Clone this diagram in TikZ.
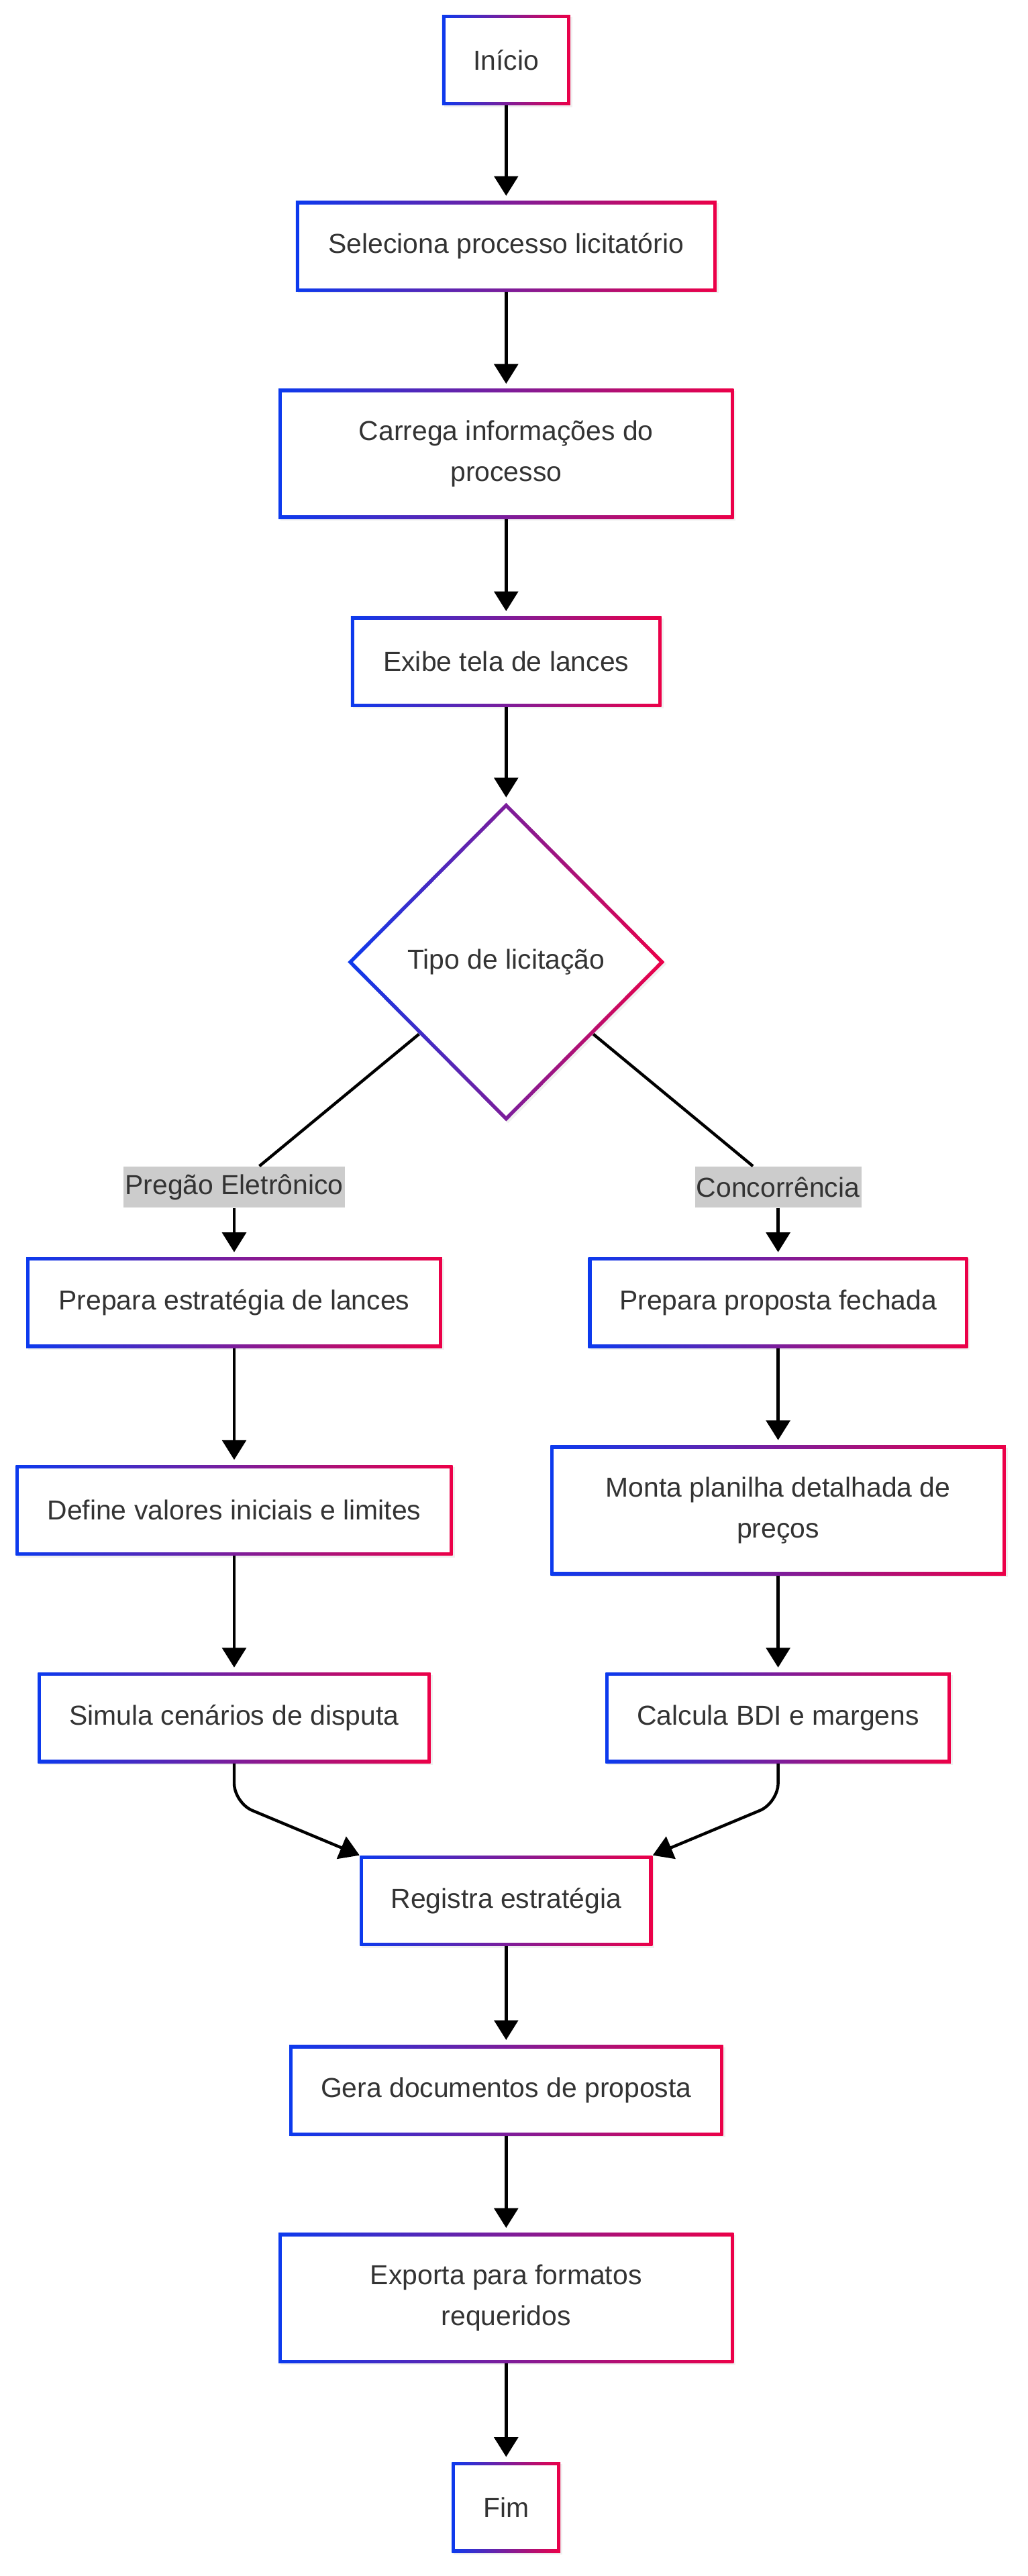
\documentclass[tikz,border=0pt]{standalone}
\usepackage{fontspec}
\setmainfont{Liberation Sans}
\usepackage{tikz}
\usetikzlibrary{shapes.geometric}
\usetikzlibrary{shadows}
\usetikzlibrary{positioning}
\usetikzlibrary{arrows.meta}

\definecolor{rimBlue}{RGB}{12,58,238}
\definecolor{rimRed}{RGB}{236,0,72}
\definecolor{tagGray}{RGB}{204,204,204}
\definecolor{inkGray}{RGB}{51,51,51}

\tikzset{
    stepbox/.style={rectangle, inner sep=0pt, minimum height=55pt,
        left color=rimBlue, right color=rimRed, text=inkGray, align=center,
        font=\fontsize{16.7}{25}\selectfont,
        drop shadow={shadow xshift=1.2pt, shadow yshift=-1.2pt, opacity=0.12},
        path picture={\fill[white] ([shift={(2pt,2pt)}]path picture bounding box.south west)
            rectangle ([shift={(-2pt,-2pt)}]path picture bounding box.north east);}},
    tallbox/.style={stepbox, minimum height=79pt},
    choice/.style={diamond, aspect=1, inner sep=0pt, minimum width=193pt, minimum height=194pt,
        left color=rimBlue, right color=rimRed, text=inkGray,
        font=\fontsize{16.7}{25}\selectfont,
        drop shadow={shadow xshift=1.2pt, shadow yshift=-1.2pt, opacity=0.12},
        path picture={\fill[white] ([yshift=-3.2pt]path picture bounding box.north)
            -- ([xshift=-3.2pt]path picture bounding box.east)
            -- ([yshift=3.2pt]path picture bounding box.south)
            -- ([xshift=3.2pt]path picture bounding box.west) -- cycle;}},
    branchtag/.style={rectangle, fill=tagGray, text=inkGray, inner xsep=1pt,
        minimum height=25pt, font=\fontsize{16.7}{25}\selectfont},
    flow/.style={draw=black, line width=1.8pt, -{Triangle[length=12pt,width=14.5pt]},
        shorten >=3pt},
    mergeflow/.style={flow, rounded corners=12pt, shorten >=0pt}
}

\begin{document}
\begin{tikzpicture}[x=1pt, y=1pt, node distance=58pt]
    \useasboundingbox (0,0) rectangle (625.3,-1568);

    % main column
    \node[stepbox, minimum width=78pt] (inicio) at (308,-36.5) {Início};
    \node[stepbox, minimum width=256pt, below=of inicio] (seleciona) {Seleciona processo licitatório};
    \node[tallbox, minimum width=277pt, below=59pt of seleciona] (carrega) {Carrega informações do\\processo};
    \node[stepbox, minimum width=189pt, below=59pt of carrega] (exibe) {Exibe tela de lances};
    \node[choice, below=of exibe] (tipo) {Tipo de licitação};

    % branch tags
    \node[branchtag] (tagPregao) at (142.5,-722.5) {Pregão Eletrônico};
    \node[branchtag] (tagConcorr) at (473.5,-722.5) {Concorrência};

    % right branch
    \node[stepbox, minimum width=231pt, below=30pt of tagConcorr] (prepProposta) {Prepara proposta fechada};
    \node[tallbox, minimum width=277pt, below=59pt of prepProposta] (planilha) {Monta planilha detalhada de\\preços};
    \node[stepbox, minimum width=210pt, below=59pt of planilha] (calculaBdi) {Calcula BDI e margens};

    % left branch
    \node[stepbox, minimum width=253pt, below=30pt of tagPregao] (prepLances) {Prepara estratégia de lances};
    \node[stepbox, minimum width=266pt] (defValores) at (prepLances |- planilha) {Define valores iniciais e limites};
    \node[stepbox, minimum width=239pt] (simula) at (prepLances |- calculaBdi) {Simula cenários de disputa};

    % merge and tail
    \node[stepbox, minimum width=178pt] (registra) at (308,-1157) {Registra estratégia};
    \node[stepbox, minimum width=264pt, below=60pt of registra] (gera) {Gera documentos de proposta};
    \node[tallbox, minimum width=277pt, below=59pt of gera] (exporta) {Exporta para formatos\\requeridos};
    \node[stepbox, minimum width=66pt, below=60pt of exporta] (fim) {Fim};

    \draw[flow] (inicio) -- (seleciona);
    \draw[flow] (seleciona) -- (carrega);
    \draw[flow] (carrega) -- (exibe);
    \draw[flow] (exibe) -- (tipo);

    \draw[line width=1.8pt] (tipo) -- (tagPregao);
    \draw[line width=1.8pt] (tipo) -- (tagConcorr);
    \draw[flow] (tagPregao) -- (prepLances);
    \draw[flow] (tagConcorr) -- (prepProposta);

    \draw[flow] (prepLances) -- (defValores);
    \draw[flow] (defValores) -- (simula);
    \draw[flow] (prepProposta) -- (planilha);
    \draw[flow] (planilha) -- (calculaBdi);

    \draw[mergeflow] (simula.south) -- ++(0,-24) -- (registra.north west);
    \draw[mergeflow] (calculaBdi.south) -- ++(0,-24) -- (registra.north east);

    \draw[flow] (registra) -- (gera);
    \draw[flow] (gera) -- (exporta);
    \draw[flow] (exporta) -- (fim);
\end{tikzpicture}
\end{document}
